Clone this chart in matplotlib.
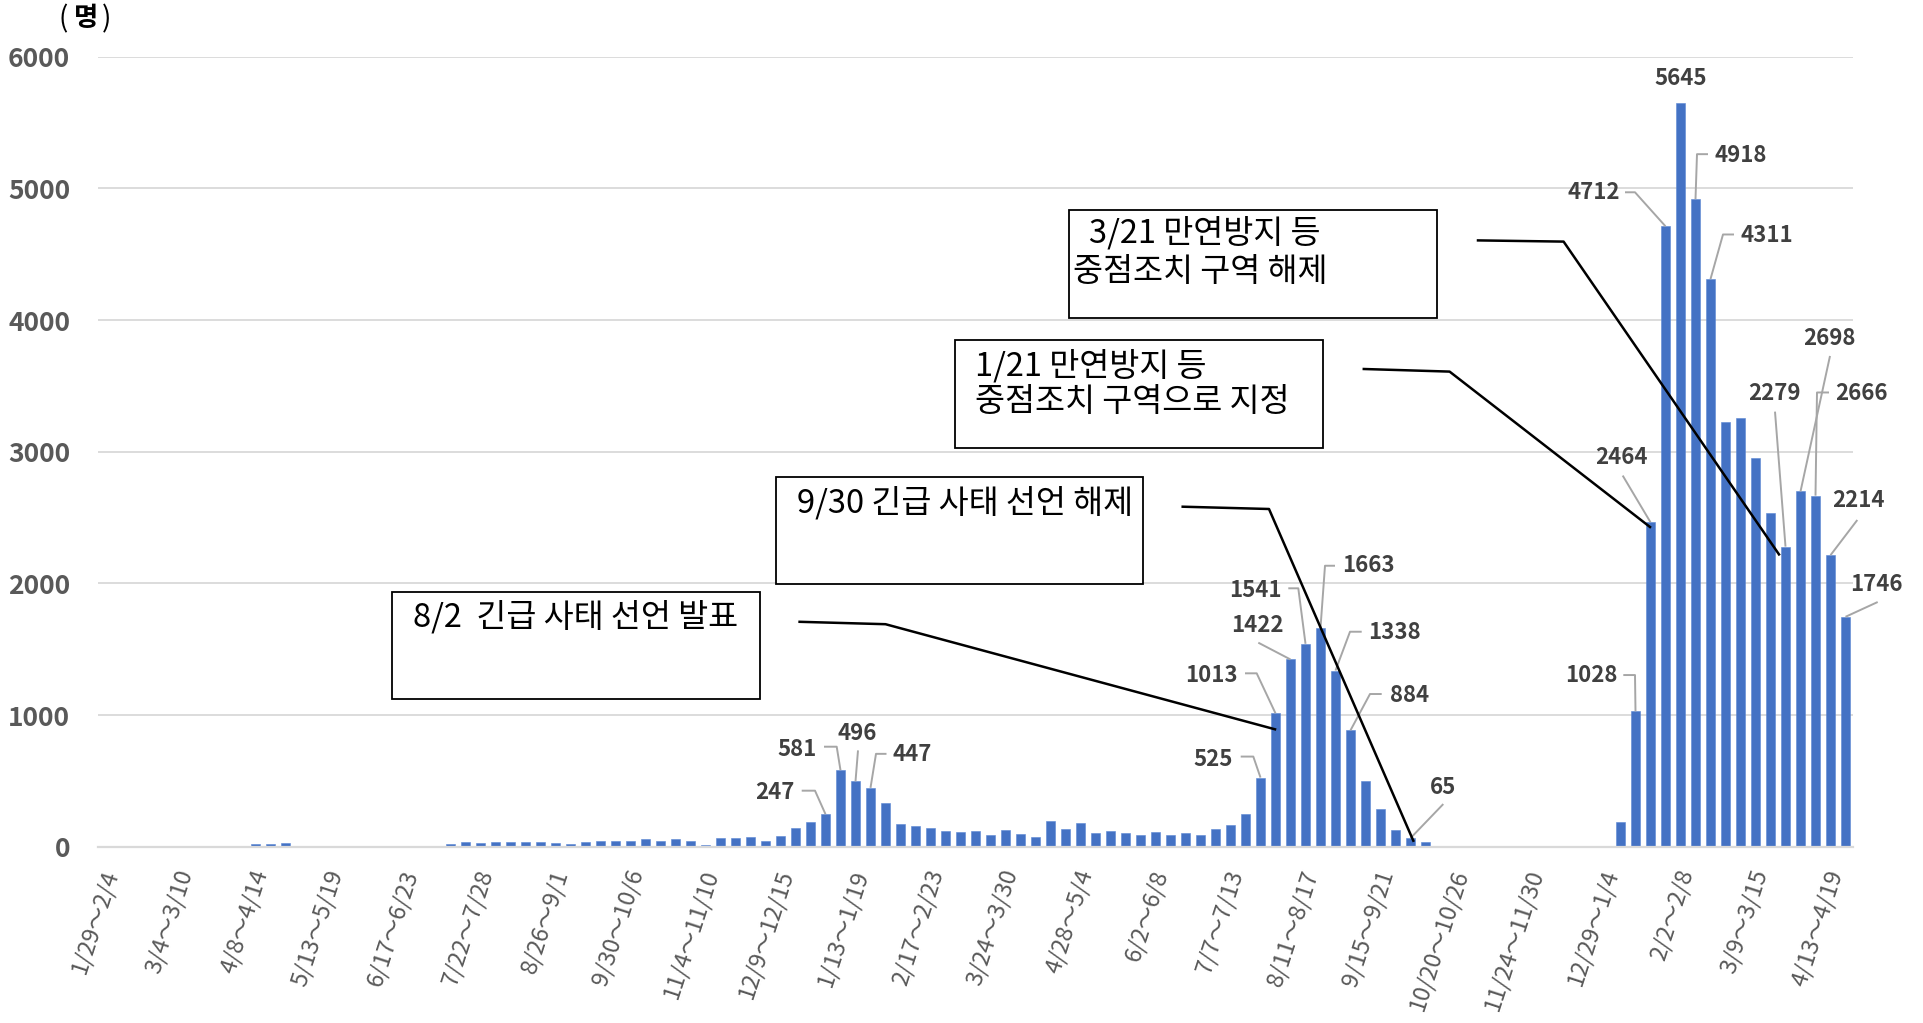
import matplotlib
matplotlib.use('Agg')
import matplotlib.pyplot as plt
from matplotlib.patches import Rectangle
from matplotlib.transforms import ScaledTranslation
import numpy as np

plt.rcParams['font.family'] = ['Noto Sans CJK KR', 'DejaVu Sans']

# ---------------- data ----------------
weekly_cases = [
    0, 0, 0, 0, 0, 0, 0, 0, 5, 22,
    20, 27, 0, 0, 8, 0, 0, 0, 0, 0,
    0, 5, 20, 32, 30, 35, 38, 33, 33, 28,
    17, 33, 47, 40, 40, 55, 40, 55, 45, 15,
    69, 64, 74, 41, 81, 139, 190, 247, 581, 496,
    447, 329, 175, 155, 144, 122, 112, 122, 91, 124,
    96, 76, 197, 132, 177, 106, 122, 101, 86, 114,
    91, 101, 91, 135, 165, 246, 525, 1013, 1422, 1541,
    1663, 1338, 884, 497, 286, 127, 65, 33, 6, 5,
    4, 1, 3, 2, 1, 3, 4, 5, 6, 6,
    188, 1028, 2464, 4712, 5645, 4918, 4311, 3222, 3254, 2950,
    2537, 2279, 2698, 2666, 2214, 1746,
]
tick_positions = list(range(0, 116, 5))
tick_labels = [
    "1/29～2/4", "3/4～3/10", "4/8～4/14", "5/13～5/19", "6/17～6/23",
    "7/22～7/28", "8/26～9/1", "9/30～10/6", "11/4～11/10", "12/9～12/15",
    "1/13～1/19", "2/17～2/23", "3/24～3/30", "4/28～5/4", "6/2～6/8",
    "7/7～7/13", "8/11～8/17", "9/15～9/21", "10/20～10/26", "11/24～11/30",
    "12/29～1/4", "2/2～2/8", "3/9～3/15", "4/13～4/19",
]
labeled_weeks = [47, 48, 49, 50, 76, 77, 78, 79, 80, 81, 82, 86,
                 101, 102, 103, 104, 105, 106, 111, 112, 113, 114, 115]
y_ticks = [0, 1000, 2000, 3000, 4000, 5000, 6000]
unit_label = "명"
notes = [
    ("3/21 만연방지 등", "중점조치 구역 해제"),
    ("1/21 만연방지 등", "중점조치 구역으로 지정"),
    ("9/30 긴급 사태 선언 해제", None),
    ("8/2  긴급 사태 선언 발표", None),
]

# ---------------- layout ----------------
W, H = 1923, 1023
L, R, T, B = 98.0, 1853.0, 56.7, 846.7
fig = plt.figure(figsize=(W / 100, H / 100), dpi=100)
ax = fig.add_axes([L / W, 1 - B / H, (R - L) / W, (B - T) / H])

n = len(weekly_cases)
x = np.arange(n)
ax.bar(x, weekly_cases, width=0.62, color='#4472C4', edgecolor='#5A86D3',
       linewidth=0.4, zorder=2)
ax.set_xlim(-1.5, n - 0.5)
ax.set_ylim(0, 6000)
ax.set_yticks(y_ticks)
ax.set_yticklabels([str(v) for v in y_ticks], fontsize=19, fontweight='bold',
                   color='#595959')
ax.grid(axis='y', color='#D9D9D9', linewidth=1.3, zorder=0)
ax.set_axisbelow(True)
for s in ['top', 'right', 'left']:
    ax.spines[s].set_visible(False)
ax.spines['bottom'].set_color('#D9D9D9')
ax.spines['bottom'].set_linewidth(1.6)
ax.tick_params(axis='both', length=0)
ax.tick_params(axis='y', pad=20)
ax.set_xticks(tick_positions)
ax.set_xticklabels(tick_labels, rotation=72, ha='right', va='center',
                   rotation_mode='anchor', fontsize=17, color='#595959')
ax.tick_params(axis='x', pad=17)
shift = ScaledTranslation(-9 / 100, 0, fig.dpi_scale_trans)
for lab in ax.get_xticklabels():
    lab.set_transform(lab.get_transform() + shift)

ppx = (R - L) / (n + 1)      # pixels per category
ppy = (B - T) / 6000.0       # pixels per person


def off(i, v, dx, dy):
    """bar top (i, v) shifted by (dx, dy) image pixels (dy downwards)."""
    return i + dx / ppx, v - dy / ppy


# label layout: text centre offset, leader path offsets (image px from bar top)
label_layout = {
    47: ((-51, -22), [(-23.8, -23.5), (-10.5, -23.5)]),
    48: ((-43, -21), [(-16.5, -23.5), (-3.8, -23.5)]),
    49: ((2, -48), [(2.5, -31)]),
    50: ((42, -33), [(16, -34), (5.5, -34)]),
    76: ((-47.7, -18.4), [(-19.8, -21), (-7.2, -21)]),
    77: ((-63.8, -37.5), [(-30.5, -40), (-18.8, -40)]),
    78: ((-33.2, -33.7), [(-32.2, -16.8)]),
    79: ((-50.5, -53), [(-17.2, -55.5), (-7.2, -55.5)]),
    80: ((48.3, -62), [(14.5, -62), (4.5, -62)]),
    81: ((59.2, -38), [(26.2, -38.8), (14.5, -38.8)]),
    82: ((59, -34.5), [(31.2, -36.3), (19.5, -36.3)]),
    86: ((32.3, -50.6), [(32.8, -34.1)]),
    101: ((-44.5, -36.3), [(-12.2, -36.3), (-0.5, -36.3)]),
    102: ((-29, -65), [(-27.8, -46.7)]),
    103: ((-72, -34), [(-40.5, -34), (-30.5, -34)]),
    104: ((0, -25.4), []),
    105: ((45.5, -43.3), [(12.5, -45), (1.5, -45)]),
    106: ((56.5, -43.6), [(23.5, -44.6), (12.5, -44.6)]),
    111: ((-10.9, -152.9), [(-10.5, -135)]),
    112: ((29.3, -152.5), [(29.5, -135.5)]),
    113: ((45.5, -101.7), [(13.5, -103.2), (1.5, -103.2)]),
    114: ((27.5, -54.2), [(26.8, -35.2)]),
    115: ((30.9, -32.8), [(32.2, -14.8)]),
}

for i in labeled_weeks:
    v = weekly_cases[i]
    (tx, ty), path = label_layout[i]
    ax.text(*off(i, v, tx, ty), str(v), ha='center', va='center',
            fontsize=16, fontweight='bold', color='#404040', zorder=5)
    if path:
        pts = [off(i, v, dx, dy) for dx, dy in path] + [(i, v)]
        ax.plot([p[0] for p in pts], [p[1] for p in pts], color='#A6A6A6',
                linewidth=1.4, zorder=4, clip_on=False, solid_capstyle='butt')


def px2ax(px, py):
    return (px - L) / (R - L), (B - py) / (B - T)


# annotation boxes: (rect px), text positions, pointer line px
boxes = [
    ((1069, 209.7, 1437, 317.6), [(1089, 233), (1073, 271.5)],
     [(1478, 240.4), (1563.6, 241.6), (1779, 554.4)]),
    ((955.4, 339.7, 1323.3, 447.6), [(975, 365.5), (975, 402.3)],
     [(1363.8, 369), (1449.6, 371.6), (1650, 527)]),
    ((776.3, 477, 1143, 583.8), [(797, 503)],
     [(1182.7, 506.7), (1269, 509), (1413.3, 840.7)]),
    ((392.4, 592.4, 760.4, 699), [(413.3, 617)],
     [(799.6, 621.8), (885.5, 624.2), (1275, 729.3)]),
]

for (lines, ((x0, y0, x1, y1), tpos, ptr)) in zip(notes, boxes):
    ax0, ay1 = px2ax(x0, y0)
    ax1, ay0 = px2ax(x1, y1)
    ax.add_patch(Rectangle((ax0, ay0), ax1 - ax0, ay1 - ay0,
                           transform=ax.transAxes, facecolor='white',
                           edgecolor='black', linewidth=1.3, zorder=6,
                           clip_on=False))
    for txt, (px, py) in zip([l for l in lines if l], tpos):
        ax.text(*px2ax(px, py), txt, transform=ax.transAxes, ha='left',
                va='center', fontsize=23.5, color='black', zorder=7)
    pts = [px2ax(px, py) for px, py in ptr]
    ax.plot([p[0] for p in pts], [p[1] for p in pts], transform=ax.transAxes,
            color='black', linewidth=1.8, zorder=6, clip_on=False)

# unit label
fig.text(63 / W, 1 - 19 / H, "(", ha='center', va='center', fontsize=20,
         color='black')
fig.text(86 / W, 1 - 19 / H, unit_label, ha='center', va='center',
         fontsize=19, fontweight='bold', color='black')
fig.text(107 / W, 1 - 19 / H, ")", ha='center', va='center', fontsize=20,
         color='black')

fig.savefig('out.png', dpi=100, facecolor='white')
